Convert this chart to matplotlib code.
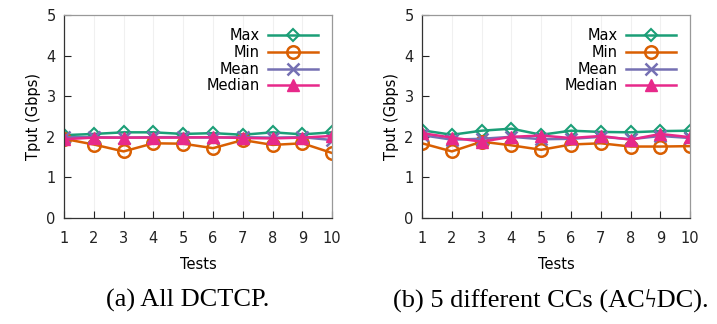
import matplotlib.pyplot as plt

# test numbers and per-test throughput (Gbps)
tests = list(range(1, 11))

a_max = [2.04, 2.07, 2.11, 2.11, 2.07, 2.09, 2.05, 2.11, 2.06, 2.11]
a_min = [1.95, 1.81, 1.64, 1.84, 1.83, 1.72, 1.92, 1.80, 1.84, 1.60]
a_mean = [1.99, 1.99, 1.98, 1.99, 1.99, 1.98, 1.99, 1.98, 1.99, 1.92]
a_median = [1.94, 1.98, 1.98, 1.98, 1.98, 1.99, 1.97, 1.96, 1.98, 2.02]

b_max = [2.16, 2.05, 2.15, 2.20, 2.05, 2.15, 2.12, 2.11, 2.14, 2.15]
b_min = [1.84, 1.64, 1.88, 1.79, 1.68, 1.81, 1.84, 1.76, 1.76, 1.77]
b_mean = [2.04, 1.93, 1.95, 2.00, 1.94, 1.95, 2.00, 1.94, 2.02, 1.97]
b_median = [2.09, 1.98, 1.88, 2.00, 2.03, 1.97, 2.02, 1.93, 2.07, 1.99]

series_names = ['Max', 'Min', 'Mean', 'Median']
colors = ['#1b9e77', '#d95f02', '#7570b3', '#e7298a']
captions = ['(a) All DCTCP.', '(b) 5 different CCs (AC\u03dfDC).']

plt.rcParams['font.family'] = ['DejaVu Sans']

fig = plt.figure(figsize=(7.17, 3.24), dpi=100)
ax_a = fig.add_axes([0.0893, 0.327, 0.374, 0.627])
ax_b = fig.add_axes([0.5886, 0.327, 0.374, 0.627])

panels = [(ax_a, [a_max, a_min, a_mean, a_median]),
          (ax_b, [b_max, b_min, b_mean, b_median])]

for i, (ax, data) in enumerate(panels):
    styles = [dict(marker='D', markersize=6, markerfacecolor='none', markeredgewidth=1.5),
              dict(marker='o', markersize=9, markerfacecolor='none', markeredgewidth=1.8),
              dict(marker='x', markersize=9, markeredgewidth=1.8),
              dict(marker='^', markersize=9)]
    for vals, name, c, st in zip(data, series_names, colors, styles):
        ax.plot(tests, vals, color=c, lw=1.8, label=name, **st)

    ax.set_xlim(1, 10)
    ax.set_ylim(0, 5)
    ax.set_xticks(tests)
    ax.set_yticks([0, 1, 2, 3, 4, 5])
    ax.tick_params(axis='x', pad=9)
    ax.tick_params(axis='y', pad=6)
    ax.tick_params(direction='in', length=5, labelsize=10.5, colors='#222222',
                   top=False, right=False)
    for s in ['top', 'right']:
        ax.spines[s].set_color('#999999')
    for s in ['left', 'bottom']:
        ax.spines[s].set_color('#333333')
    for s in ax.spines.values():
        s.set_linewidth(0.9)
    ax.grid(axis='x', color='#f0f0f0', lw=0.8)
    ax.set_axisbelow(True)

    ax.set_xlabel('Tests', fontsize=10.5, labelpad=8)
    ax.set_ylabel('Tput (Gbps)', fontsize=10.5, labelpad=4)

    ax.legend(loc='upper right', frameon=False, markerfirst=False, fontsize=10.5,
              handlelength=3.4, handletextpad=0.6, labelspacing=0.12,
              borderaxespad=0.3, bbox_to_anchor=(0.985, 0.985))

    ax.text(0.46 if i == 0 else 0.48, -0.405, captions[i], transform=ax.transAxes,
            ha='center', va='center', fontsize=19,
            family=['Liberation Serif', 'DejaVu Serif', 'DejaVu Sans'])

fig.savefig('out.png', dpi=100)
